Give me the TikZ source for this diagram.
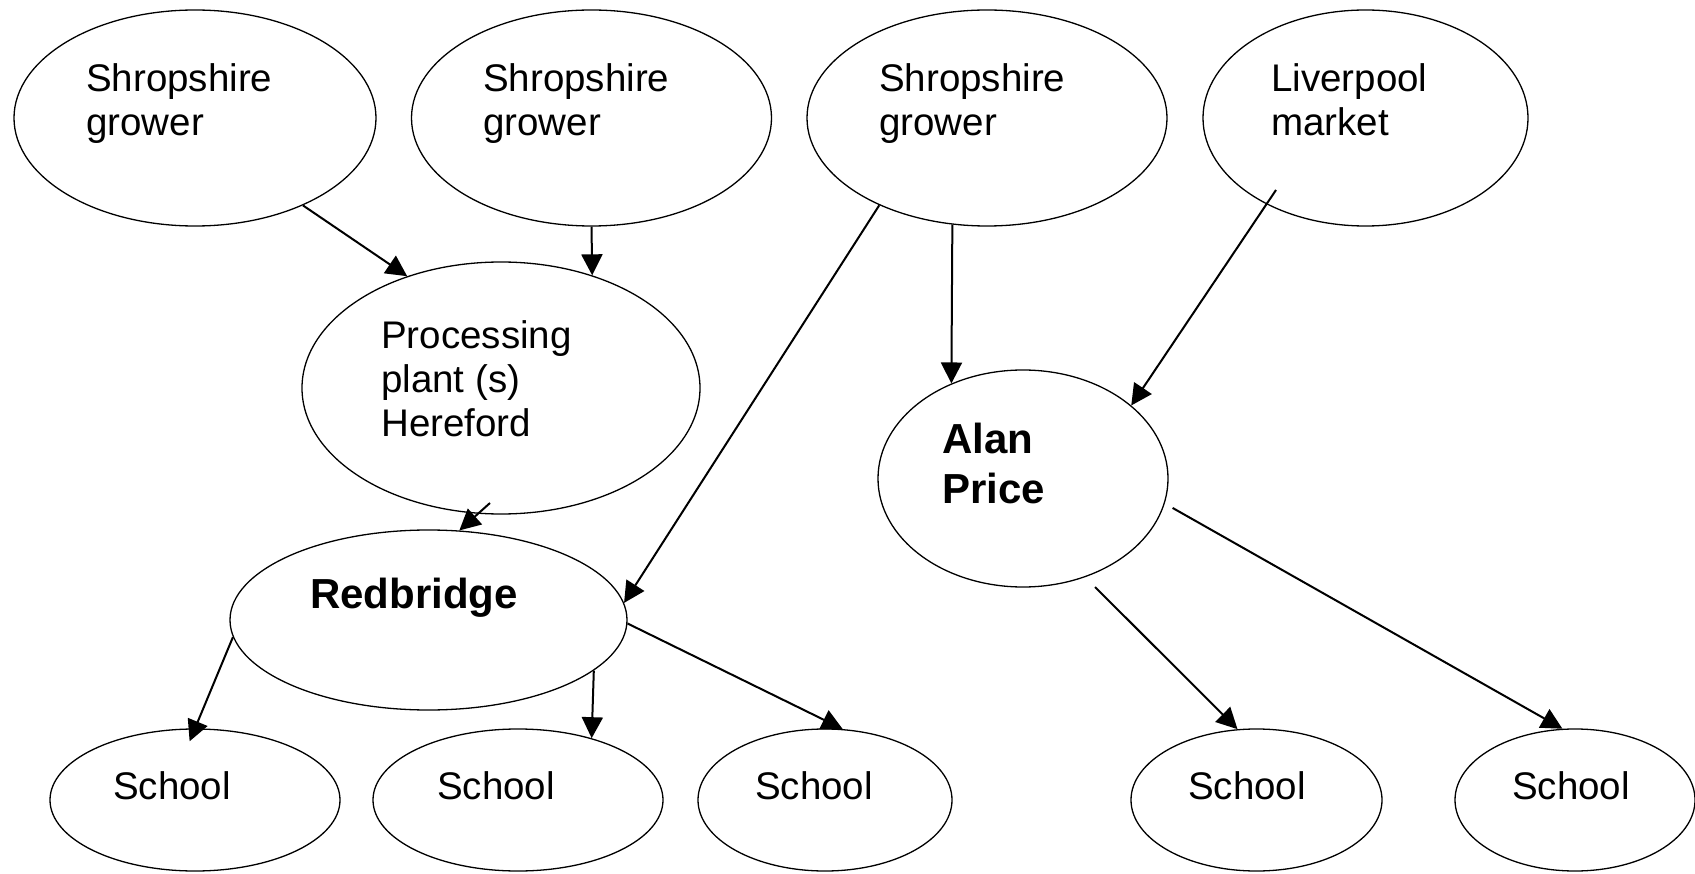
\documentclass[tikz,border=0pt]{standalone}
\usepackage{fontspec}
\setmainfont{Liberation Sans}
\usetikzlibrary{shapes.geometric,arrows.meta}

\tikzstyle{oval}=[draw,ellipse,line width=1.3pt,inner sep=0pt]
\tikzstyle{link}=[draw,line width=2pt,-{Triangle[length=21pt,width=21pt]}]
\tikzstyle{words}=[anchor=north west,inner sep=0pt,align=left,font=\fontsize{38.5}{44}\selectfont]
\tikzstyle{boldwords}=[words,font=\fontsize{42}{50}\selectfont\bfseries]

\begin{document}
\begin{tikzpicture}[x=1pt,y=-1pt]
    \useasboundingbox (0,0) rectangle (1695,874);
    % First the ellipses
    \foreach \name/\x/\y/\w/\h in {sg1/195/118/362/216, sg2/591.5/118/360/216,
        sg3/987/118/360/216, lvp/1365.5/118/325/216, proc/501/388/398/252,
        alan/1023/478.5/290/217, red/428.5/620/397/180, sch1/195/800/290/142,
        sch2/518/800/290/142, sch3/825/800/254/142, sch4/1256.5/800/251/142,
        sch5/1575/800/240/142}
        \node[oval,minimum width=\w pt,minimum height=\h pt] (\name) at (\x,\y) {};
    % Then the texts
    \foreach \pos/\name/\text in {{(86,63)/sg1t/{Shropshire\\grower}},
        {(483,63)/sg2t/{Shropshire\\grower}}, {(879,63)/sg3t/{Shropshire\\grower}},
        {(1271,63)/lvpt/{Liverpool\\market}}, {(381,320)/proct/{Processing\\plant (s)\\Hereford}},
        {(113,771)/sch1t/School}, {(437,771)/sch2t/School}, {(755,771)/sch3t/School},
        {(1188,771)/sch4t/School}, {(1512,771)/sch5t/School}}
        \node[words] (\name) at \pos {\text};
    \node[boldwords] (alant) at (942,423) {Alan\\Price};
    \node[boldwords] (redt) at (310,578) {Redbridge};
    % Loose ends of some arrows
    \coordinate (lvpout) at (1276,190);
    \coordinate (procout) at (490,503);
    \coordinate (alanout) at (1095,587);
    % Connect the ellipses with arrows
    \path[link] (sg1.-39) -- (proc.130);
    \path[link] (sg2.-90) -- (proc.51);
    \path[link] (sg3.-108) -- (alan.127);
    \path[link] (sg3.-141) -- (red.5);
    \path[link] (lvpout) -- (alan.34);
    \path[link] (procout) -- (red.71);
    \path[link,shorten >=-14pt] (red.-175) -- (sch1.north);
    \path[link] (red.-17) -- (sch2.40);
    \path[link] (red.-1) -- (sch3.76);
    \path[link] (alanout) -- (sch4.105);
    \path[link,shorten <=9pt] (alan.-10) -- (sch5.100);
\end{tikzpicture}
\end{document}
